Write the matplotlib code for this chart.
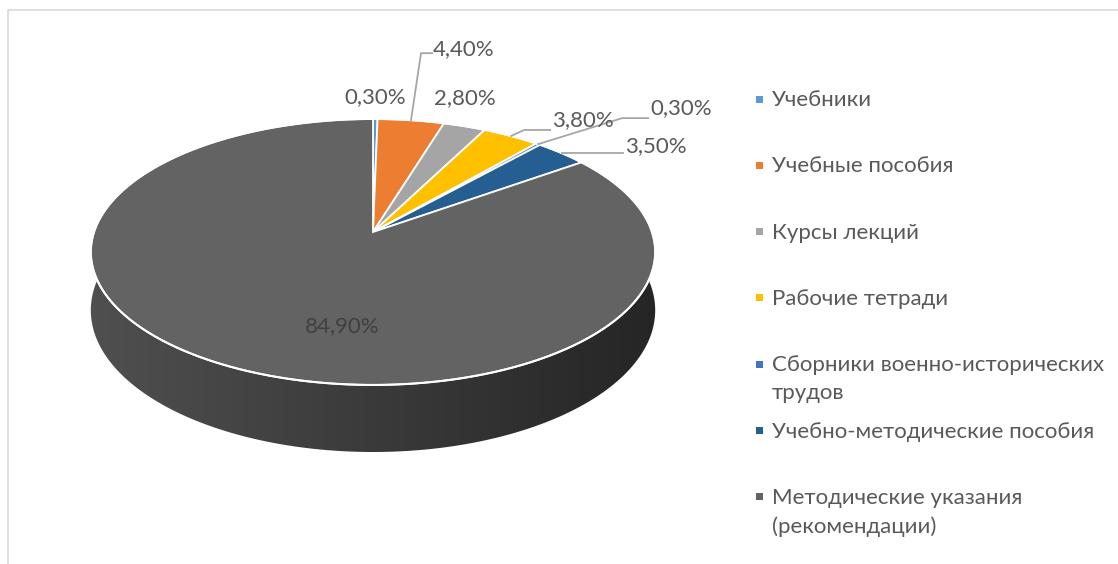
import numpy as np
import matplotlib
matplotlib.use("Agg")
import matplotlib.pyplot as plt
from matplotlib.patches import Rectangle, Polygon

# data
categories = ["Учебники", "Учебные пособия", "Курсы лекций", "Рабочие тетради",
              "Сборники военно-исторических\nтрудов", "Учебно-методические пособия",
              "Методические указания\n(рекомендации)"]
shares = [0.3, 4.4, 2.8, 3.8, 0.3, 3.5, 84.9]
value_labels = ["0,30%", "4,40%", "2,80%", "3,80%", "0,30%", "3,50%", "84,90%"]
colors = ["#5B9BD5", "#ED7D31", "#A5A5A5", "#FFC000", "#4472C4", "#255E91", "#636363"]

plt.rcParams['font.family'] = ['Lato', 'DejaVu Sans']
TXT = "#595959"
FS = 16

W, H = 1118, 564
fig = plt.figure(figsize=(W / 100, H / 100), dpi=100)
ax = fig.add_axes([0, 0, 1, 1])
ax.set_xlim(0, W)
ax.set_ylim(H, 0)
ax.axis("off")

# pie geometry (pixels), simple perspective
CX, CY = 373, 232
RX, RY = 279, 130
K = 0.15
DEPTH = 57


def proj(theta, r=1.0, down=0.0):
    """theta in degrees clockwise from 12 o'clock"""
    t = np.radians(theta)
    u, v = r * np.sin(t), r * np.cos(t)
    d = 1 + K * v
    return CX + RX * u / d, CY + (-RY * v + down * DEPTH) / d


bounds = np.concatenate([[0], np.cumsum(shares)]) / sum(shares) * 360

# horizontal shading for the side wall
gx = np.linspace(80, 670, 300)
fac = 0.80 - 0.42 * np.clip((gx - 92) / 561, 0, 1)

# side
for i, col in enumerate(colors):
    ts = np.linspace(bounds[i], bounds[i + 1], max(3, int((bounds[i + 1] - bounds[i]) * 2)))
    xt, yt = proj(ts)
    xb, yb = proj(ts[::-1], down=1)
    poly = Polygon(np.column_stack([np.r_[xt, xb], np.r_[yt, yb]]),
                   closed=True, facecolor="none", edgecolor="none")
    ax.add_patch(poly)
    rgb = np.array(matplotlib.colors.to_rgb(col))
    img = np.clip(fac[None, :, None] * rgb[None, None, :], 0, 1)
    im = ax.imshow(img, extent=(80, 670, 470, 100), aspect="auto",
                   interpolation="bilinear", zorder=1)
    im.set_clip_path(poly)

# top face
for i, col in enumerate(colors):
    ts = np.linspace(bounds[i], bounds[i + 1], max(3, int((bounds[i + 1] - bounds[i]) * 2)))
    xs, ys = proj(ts)
    ax.fill(np.r_[CX, xs], np.r_[CY, ys], facecolor=col,
            edgecolor="white", linewidth=1.3, joinstyle="miter", zorder=3)
ts = np.linspace(0, 360, 721)
xs, ys = proj(ts)
ax.plot(xs, ys, color="white", lw=1.5, zorder=4)

# data labels: (dx, dy) of text from its rim point
label_off = [(0, -22), (22, -71), (0, -28), (41, -16), (112, -36), (63, -7), (45, 25)]
leader = [False, True, False, True, True, True, False]
for i, lab in enumerate(value_labels):
    mid = (bounds[i] + bounds[i + 1]) / 2
    r = 0.55 if i == len(shares) - 1 else 1.0
    px, py = proj(mid, r=r)
    dx, dy = label_off[i]
    tx, ty = px + dx, py + dy
    if leader[i]:
        if i == 1:
            path = [(px, py), (tx - 12, ty + 4), (tx - 1, ty + 4)]
        elif i == 5:
            path = [(px, py), (tx - 2, py)]
        else:
            path = [(px, py), (tx - 28, ty + 10), (tx - 2, ty + 10)]
        ax.plot([p[0] for p in path], [p[1] for p in path], color="#A6A6A6", lw=1.3, zorder=5)
        ax.text(tx, ty, lab, ha="left", va="center", fontsize=FS, color=TXT, zorder=6)
    else:
        c = "#404040" if i == len(shares) - 1 else TXT
        ax.text(tx, ty, lab, ha="center", va="center", fontsize=FS, color=c, zorder=6)

# legend
LX, LY, LSTEP = 759, 99, 66.3
for i, (name, col) in enumerate(zip(categories, colors)):
    y = LY + i * LSTEP
    ax.add_patch(Rectangle((LX - 3.5, y - 3.5), 7, 7, facecolor=col, edgecolor="none"))
    ax.text(LX + 13, y - 9, name, ha="left", va="top", fontsize=FS, color=TXT,
            linespacing=1.5)

# chart frame
ax.plot([8, 8, W], [H, 10, 10], color="#D9D9D9", lw=1.2)

fig.savefig("out.png", dpi=100)
